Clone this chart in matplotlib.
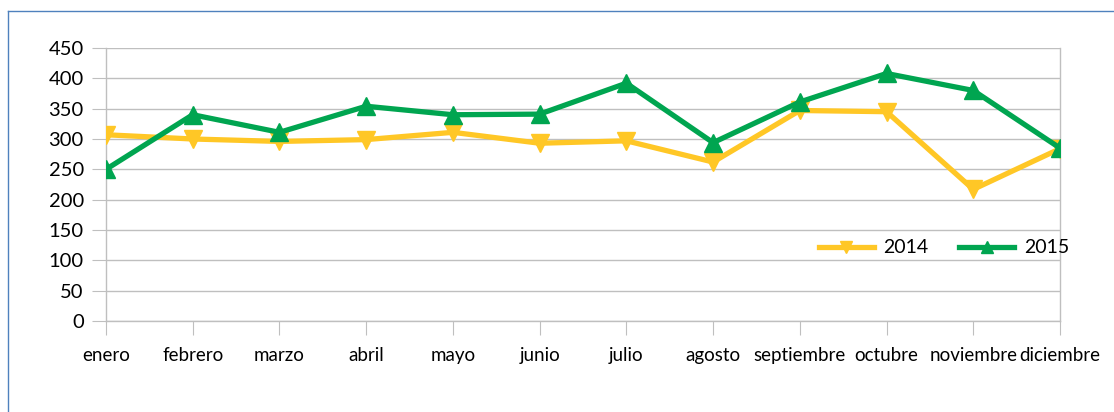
import matplotlib.pyplot as plt
from matplotlib.lines import Line2D
import numpy as np

months = ['enero', 'febrero', 'marzo', 'abril', 'mayo', 'junio', 'julio',
          'agosto', 'septiembre', 'octubre', 'noviembre', 'diciembre']
v2014 = [307, 300, 296, 299, 311, 293, 297, 262, 347, 345, 217, 284]
v2015 = [250, 340, 311, 354, 340, 341, 392, 294, 361, 408, 380, 285]
yticks = [0, 50, 100, 150, 200, 250, 300, 350, 400, 450]

plt.rcParams['font.family'] = ['Lato', 'DejaVu Sans']

fig = plt.figure(figsize=(11.14, 4.12), dpi=100)
ax = fig.add_axes([106/1114, 1 - 321/412, (1060 - 106)/1114, (321 - 48)/412])

x = np.arange(len(months))
ax.plot(x, v2014, color='#FFC726', lw=3.8, marker='v', ms=13, label='2014', zorder=3)
ax.plot(x, v2015, color='#00A550', lw=3.8, marker='^', ms=13, label='2015', zorder=4)

ax.set_xlim(0, 11)
ax.set_ylim(0, 450)
ax.set_yticks(yticks)
ax.set_xticks(x)
ax.set_xticklabels(months, fontsize=13.5)
ax.tick_params(axis='y', labelsize=14.5, length=10, color='#BFBFBF', pad=6)
ax.tick_params(axis='x', length=10, color='#BFBFBF', pad=9)
ax.grid(axis='y', color='#BFBFBF', lw=1)
ax.set_axisbelow(True)
for s in ax.spines.values():
    s.set_color('#BFBFBF')
    s.set_linewidth(1)
ax.spines['top'].set_visible(False)

leg = fig.legend(loc='center', bbox_to_anchor=(944/1114, 1 - 248/412), ncol=2,
                 frameon=False, fontsize=14, handlelength=2.8, markerscale=0.65,
                 columnspacing=1.6, handletextpad=0.5)

# blue frame (left and top)
fig.add_artist(Line2D([8/1114, 8/1114], [0, 1 - 11/412], color='#4F81BD', lw=1,
                      transform=fig.transFigure))
fig.add_artist(Line2D([8/1114, 1], [1 - 11/412, 1 - 11/412], color='#4F81BD', lw=1,
                      transform=fig.transFigure))

fig.savefig('out.png', dpi=100)
